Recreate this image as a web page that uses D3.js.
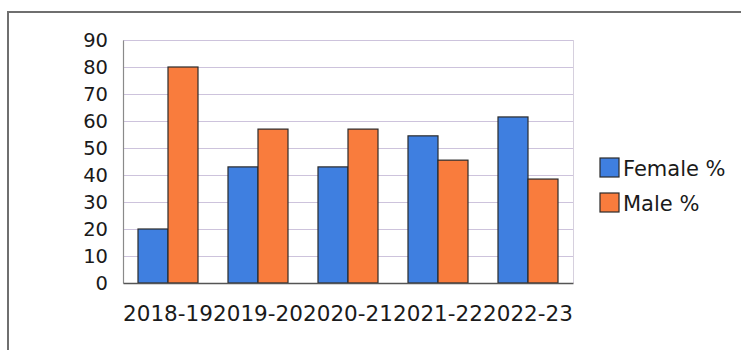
<!DOCTYPE html>
<html>
<head>
<meta charset="utf-8">
<script src="https://cdn.jsdelivr.net/npm/d3@7"></script>
<style>
  html, body { margin: 0; padding: 0; background: #ffffff; }
  svg { display: block; }
  text { font-family: "DejaVu Sans", sans-serif; fill: #1a1a1a; }
</style>
</head>
<body>
<script>
// Academic years and share of students by gender
const years = ["2018-19", "2019-20", "2020-21", "2021-22", "2022-23"];
const femalePct = [20, 43, 43, 54.5, 61.5];
const malePct = [80, 57, 57, 45.5, 38.5];
const seriesNames = ["Female %", "Male %"];
const seriesColors = ["#3f7fe0", "#f97c3d"];
const yTicks = [0, 10, 20, 30, 40, 50, 60, 70, 80, 90];

const W = 741, H = 350;
const plot = { left: 123, right: 573, top: 40, bottom: 283 };

const svg = d3.select("body").append("svg")
  .attr("width", W).attr("height", H);

// outer chart frame
svg.append("rect")
  .attr("x", 8).attr("y", 12)
  .attr("width", W + 20).attr("height", H + 20)
  .attr("fill", "none")
  .attr("stroke", "#6f6f6f")
  .attr("stroke-width", 2);

const x0 = d3.scaleBand().domain(years)
  .range([plot.left, plot.right]).paddingInner(0).paddingOuter(0);
const x1 = d3.scaleBand().domain(seriesNames)
  .range([0, x0.bandwidth()]).paddingOuter(0.5).paddingInner(0);
const y = d3.scaleLinear().domain([0, 90]).range([plot.bottom, plot.top]);

// horizontal gridlines
svg.append("g").selectAll("line")
  .data(yTicks.filter(t => t > 0))
  .join("line")
  .attr("x1", plot.left).attr("x2", plot.right)
  .attr("y1", d => y(d) + 0.5).attr("y2", d => y(d) + 0.5)
  .attr("stroke", "#cdc3dc").attr("stroke-width", 1);

// right edge of the plot area
svg.append("line")
  .attr("x1", plot.right + 0.5).attr("x2", plot.right + 0.5)
  .attr("y1", plot.top).attr("y2", plot.bottom)
  .attr("stroke", "#d6d0de");

// y axis
const yAxis = svg.append("g")
  .attr("transform", `translate(${plot.left},0)`)
  .call(d3.axisLeft(y).tickValues(yTicks).tickSize(0).tickPadding(15));
yAxis.select(".domain").attr("stroke", "#8a8a8a").attr("stroke-width", 1.2);
yAxis.selectAll("text")
  .attr("font-size", 19.5)
  .attr("font-family", "DejaVu Sans, sans-serif")
  .attr("fill", "#1a1a1a");

// bars
const rows = years.map((yr, i) => ({ year: yr, values: [femalePct[i], malePct[i]] }));
const groups = svg.append("g").selectAll("g")
  .data(rows).join("g")
  .attr("transform", d => `translate(${x0(d.year)},0)`);
groups.selectAll("rect")
  .data(d => d.values.map((v, j) => ({ name: seriesNames[j], v, j })))
  .join("rect")
  .attr("x", d => x1(d.name))
  .attr("width", x1.bandwidth())
  .attr("y", d => y(d.v))
  .attr("height", d => y(0) - y(d.v))
  .attr("fill", d => seriesColors[d.j])
  .attr("stroke", "#2a2a2a")
  .attr("stroke-width", 1.2);

// x axis
const xAxis = svg.append("g")
  .attr("transform", `translate(0,${plot.bottom})`)
  .call(d3.axisBottom(x0).tickSize(0).tickPadding(23));
xAxis.select(".domain").attr("stroke", "#555").attr("stroke-width", 1.5);
xAxis.selectAll("text")
  .attr("font-size", 21.5)
  .attr("font-family", "DejaVu Sans, sans-serif")
  .attr("fill", "#1a1a1a");

// legend
const legend = svg.append("g").attr("transform", "translate(600,158)");
const items = legend.selectAll("g").data(seriesNames).join("g")
  .attr("transform", (d, i) => `translate(0,${i * 35})`);
items.append("rect")
  .attr("width", 19).attr("height", 19)
  .attr("fill", (d, i) => seriesColors[i])
  .attr("stroke", "#2a2a2a").attr("stroke-width", 1.2);
items.append("text")
  .attr("x", 23).attr("y", 10)
  .attr("dy", "0.36em")
  .attr("font-size", 21)
  .text(d => d);
</script>
</body>
</html>
